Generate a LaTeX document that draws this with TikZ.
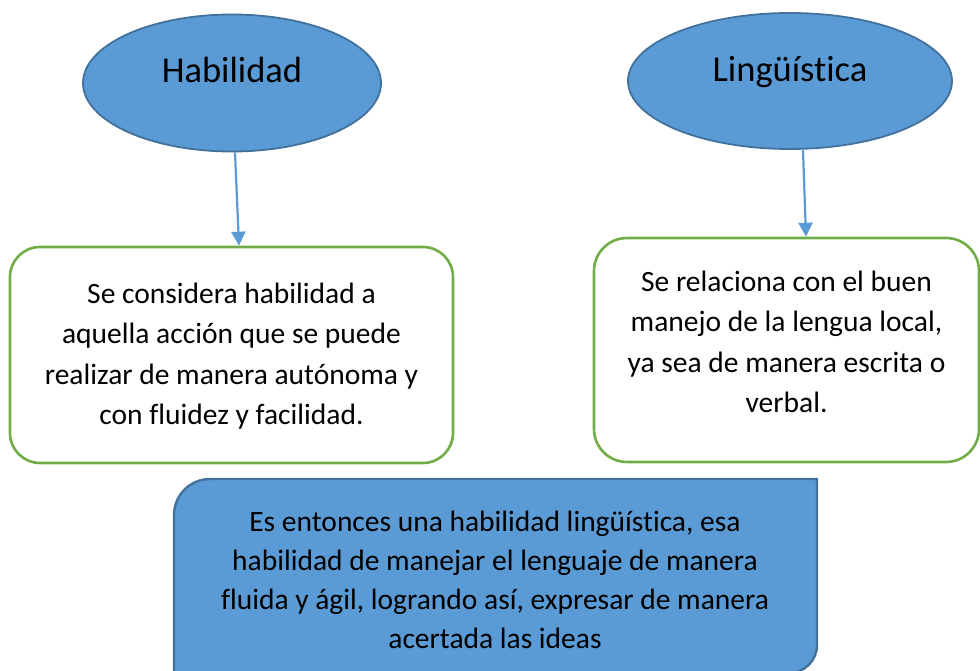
\documentclass[tikz,border=0pt]{standalone}
\usepackage{fontspec}
\setmainfont{Carlito}[Ligatures={NoCommon}]
\usetikzlibrary{arrows.meta,shapes.geometric}
\definecolor{fillblue}{HTML}{5B9BD5}
\definecolor{edgeblue}{HTML}{41719C}
\definecolor{boxgreen}{HTML}{70AD47}
\tikzset{
  oval/.style={ellipse, draw=edgeblue, fill=fillblue, line width=1.8pt, inner sep=0pt},
  titletext/.style={font=\fontsize{36.5}{42}\selectfont, anchor=base, inner sep=0pt},
  greenbox/.style={draw=boxgreen, line width=2.6pt, fill=white, rounded corners=#1},
  bodytext/.style={font=\fontsize{29.5}{40.5}\selectfont, align=center, inner sep=0pt},
  arr/.style={draw=fillblue, line width=2.2pt, -{Triangle[width=14pt,length=14pt]}},
}
\begin{document}
\begin{tikzpicture}[x=1pt,y=-1pt]
\useasboundingbox (0,0) rectangle (980,671);
% ellipses
\node[oval, minimum width=298pt, minimum height=137pt] (h) at (232,83) {};
\node[titletext] (ht) at (232,83) {Habilidad};
\node[oval, minimum width=324pt, minimum height=136pt] (l) at (790,81) {};
\node[titletext] (lt) at (790,82) {Lingüística};
% green boxes
\node[greenbox=30pt, minimum width=443pt, minimum height=216pt, inner sep=0pt] (b1) at (231.5,355) {};
\node[bodytext] (b1t) at (231.5,356) {Se considera habilidad a\\aquella acción que se puede\\realizar de manera autónoma y\\con fluidez y facilidad.};
\node[greenbox=33pt, minimum width=385pt, minimum height=224pt, inner sep=0pt] (b2) at (786.5,350) {};
\node[bodytext] (b2t) at (786.5,342) {Se relaciona con el buen\\manejo de la lengua local,\\ya sea de manera escrita o\\verbal.};
% arrows
\draw[arr] ([xshift=3pt]h.south) -- ([xshift=7.5pt]b1.north);
\draw[arr] ([xshift=13pt]l.south) -- ([xshift=19.5pt]b2.north);
% bottom box
\draw[draw=edgeblue, fill=fillblue, line width=2.4pt]
  (174,673) [rounded corners=36pt] -- (174,479) [sharp corners] -- (817,479)
  [rounded corners=28pt] -- (817,673) [sharp corners] -- cycle;
\node[bodytext, font=\fontsize{29.5}{38.8}\selectfont] (bt) at (495,580) {Es entonces una habilidad lingüística, esa\\habilidad de manejar el lenguaje de manera\\fluida y ágil, logrando así, expresar de manera\\acertada las ideas};
\end{tikzpicture}
\end{document}
